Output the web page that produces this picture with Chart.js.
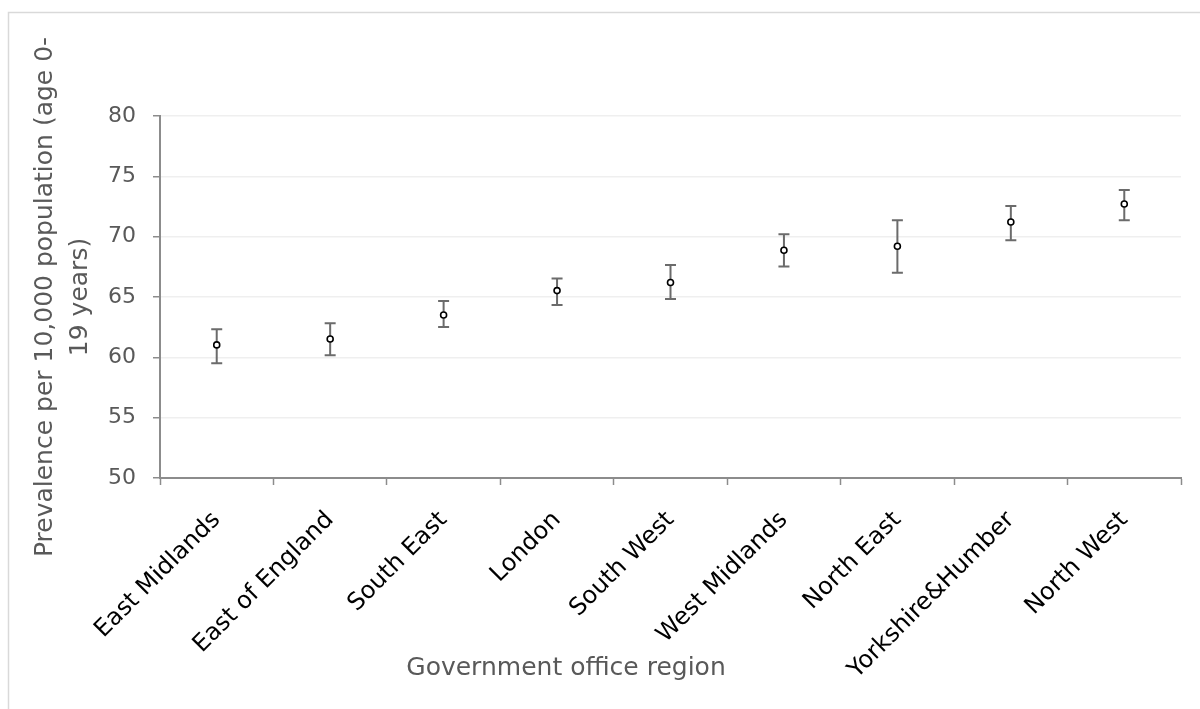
<!DOCTYPE html>
<html>
<head>
<meta charset="utf-8">
<script src="https://cdn.jsdelivr.net/npm/chart.js@4/dist/chart.umd.min.js"></script>
<style>
  html, body { margin: 0; padding: 0; background: #ffffff; }
  #wrap { width: 1200px; height: 709px; }
</style>
</head>
<body>
<div id="wrap"><canvas id="c" width="1200" height="709"></canvas></div>
<script>
const categories = ["East Midlands", "East of England", "South East", "London", "South West",
                    "West Midlands", "North East", "Yorkshire&Humber", "North West"];
const prevalence = [61.03, 61.52, 63.51, 65.53, 66.20, 68.87, 69.20, 71.22, 72.71];
const ciLower    = [59.50, 60.17, 62.52, 64.34, 64.84, 67.52, 67.02, 69.70, 71.36];
const ciUpper    = [62.33, 62.82, 64.67, 66.53, 67.66, 70.20, 71.36, 72.54, 73.87];
const yTickValues = [50, 55, 60, 65, 70, 75, 80];
const yTitleLines = ["Prevalence per 10,000 population (age 0-", "19 years)"];
const xTitle = "Government office region";

const FONT = "'DejaVu Sans', sans-serif";

const framePlugin = {
  id: 'frame',
  beforeDraw(chart) {
    const ctx = chart.ctx;
    ctx.save();
    ctx.fillStyle = '#ffffff';
    ctx.fillRect(0, 0, chart.width, chart.height);
    ctx.strokeStyle = '#d9d9d9';
    ctx.lineWidth = 1.5;
    ctx.strokeRect(8.5, 12.5, chart.width + 50, chart.height + 50);
    ctx.restore();
  }
};

const errorBarPlugin = {
  id: 'errorBars',
  beforeDatasetsDraw(chart) {
    const ctx = chart.ctx;
    const xs = chart.scales.x, ys = chart.scales.y;
    ctx.save();
    ctx.strokeStyle = '#6b6b6b';
    ctx.lineWidth = 2;
    for (let i = 0; i < categories.length; i++) {
      const x = xs.getPixelForValue(i);
      const yl = ys.getPixelForValue(ciLower[i]);
      const yu = ys.getPixelForValue(ciUpper[i]);
      ctx.beginPath();
      ctx.moveTo(x, yl); ctx.lineTo(x, yu);
      ctx.moveTo(x - 5.5, yl); ctx.lineTo(x + 5.5, yl);
      ctx.moveTo(x - 5.5, yu); ctx.lineTo(x + 5.5, yu);
      ctx.stroke();
    }
    ctx.restore();
  }
};

const axisTitlePlugin = {
  id: 'axisTitles',
  afterDraw(chart) {
    const ctx = chart.ctx;
    const area = chart.chartArea;
    ctx.save();
    ctx.fillStyle = '#595959';
    ctx.font = "25px " + FONT;
    ctx.textAlign = 'center';
    ctx.textBaseline = 'middle';
    const cy = (area.top + area.bottom) / 2;
    ctx.save();
    ctx.translate(45, cy);
    ctx.rotate(-Math.PI / 2);
    ctx.fillText(yTitleLines[0], 0, 0);
    ctx.fillText(yTitleLines[1], 0, 35);
    ctx.restore();
    ctx.fillText(xTitle, 566, 668);
    ctx.restore();
  }
};

new Chart(document.getElementById('c'), {
  type: 'line',
  data: {
    labels: categories,
    datasets: [{
      label: 'Prevalence',
      data: prevalence,
      showLine: false,
      pointStyle: 'circle',
      pointRadius: 3,
      pointBorderWidth: 1.6,
      pointBorderColor: '#000000',
      pointBackgroundColor: '#ffffff'
    }]
  },
  options: {
    responsive: false,
    animation: false,
    devicePixelRatio: 1,
    layout: { padding: { left: 0, top: 116, right: 19, bottom: 0 } },
    plugins: {
      legend: { display: false },
      tooltip: { enabled: false },
      title: { display: false }
    },
    scales: {
      x: {
        type: 'category',
        offset: true,
        afterFit(scale) { scale.height = 231; },
        grid: {
          offset: true,
          drawOnChartArea: false,
          drawTicks: true,
          tickLength: 7,
          tickColor: '#8c8c8c',
          tickWidth: 1.5
        },
        border: { color: '#8c8c8c', width: 2 },
        ticks: {
          autoSkip: false,
          maxRotation: 45,
          minRotation: 45,
          padding: 21,
          color: '#000000',
          font: { family: FONT, size: 24 }
        }
      },
      y: {
        min: 50,
        max: 80,
        afterFit(scale) { scale.width = 160; },
        afterBuildTicks(scale) { scale.ticks = yTickValues.map(v => ({ value: v })); },
        grid: {
          color: '#efefef',
          lineWidth: 1.5,
          drawTicks: true,
          tickLength: 7,
          tickColor: '#8c8c8c',
          tickWidth: 1.5
        },
        border: { color: '#8c8c8c', width: 2 },
        ticks: {
          padding: 17,
          color: '#595959',
          font: { family: FONT, size: 22 }
        }
      }
    }
  },
  plugins: [framePlugin, errorBarPlugin, axisTitlePlugin]
});
</script>
</body>
</html>
